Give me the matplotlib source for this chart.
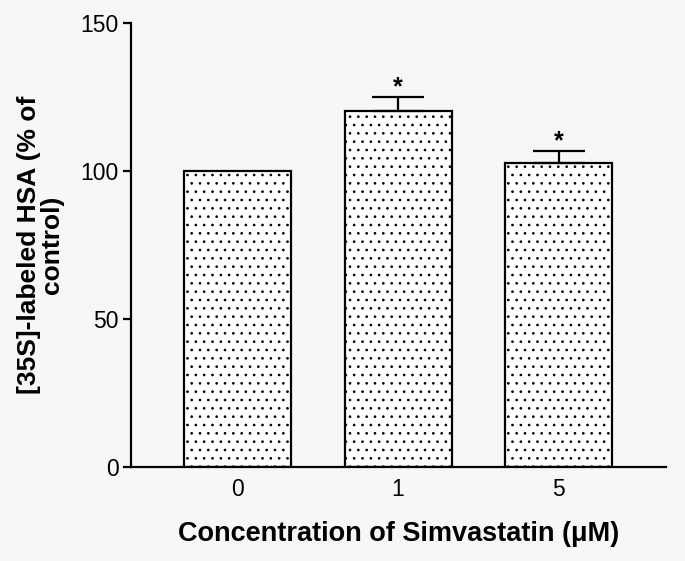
import matplotlib
matplotlib.use("Agg")
import matplotlib.pyplot as plt

categories = ["0", "1", "5"]
values = [100, 120.3, 102.6]
errors = [0, 4.8, 4.3]
significant = [False, True, True]

plt.rcParams['font.family'] = ['Liberation Sans', 'DejaVu Sans']
plt.rcParams['hatch.linewidth'] = 0.7

bg = '#f7f7f7'
fig = plt.figure(figsize=(6.85, 5.61), dpi=100, facecolor=bg)
ax = fig.add_axes([131/685, 1-467/561, (666-131)/685, (467-23)/561], facecolor=bg)

x = list(range(len(categories)))
ax.bar(x, values, width=0.667, color='white', edgecolor='black', linewidth=1.6,
       hatch='..', zorder=2)
# error bars (upper only)
for xi, v, e in zip(x, values, errors):
    if e > 0:
        ax.errorbar(xi, v, yerr=[[0], [e]], fmt='none', ecolor='black',
                    elinewidth=1.6, capsize=19, capthick=1.6, zorder=3)
for xi, v, e, s in zip(x, values, errors, significant):
    if s:
        ax.text(xi, v + e - 1.0, '*', ha='center', va='bottom', fontsize=18,
                fontweight='bold')

ax.set_xlim(-0.665, 2.67)
ax.set_ylim(0, 150)
ax.set_yticks([0, 50, 100, 150])
ax.set_xticks(x)
ax.set_xticklabels(categories)
ax.tick_params(axis='y', direction='out', length=6, width=1.6, labelsize=16.5, pad=3)
ax.tick_params(axis='x', length=0, labelsize=16.5, pad=8)
for s in ['top', 'right']:
    ax.spines[s].set_visible(False)
for s in ['left', 'bottom']:
    ax.spines[s].set_linewidth(1.6)

ax.set_xlabel('Concentration of Simvastatin (μM)', fontsize=19.5, fontweight='bold',
              labelpad=14)
ax.set_ylabel('[35S]-labeled HSA (% of\ncontrol)', fontsize=19, fontweight='bold',
              labelpad=12, linespacing=0.95)

fig.savefig('out.png', dpi=100, facecolor=bg)
